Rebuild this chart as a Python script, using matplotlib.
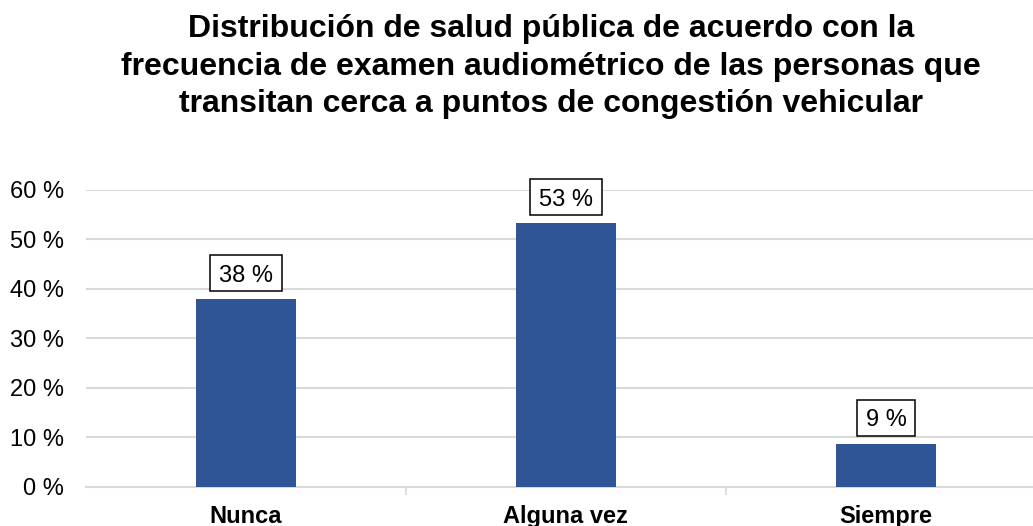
import matplotlib
matplotlib.use("Agg")
import matplotlib.pyplot as plt
from matplotlib.patches import Rectangle
from matplotlib.transforms import IdentityTransform

plt.rcParams['font.family'] = ['Liberation Sans', 'DejaVu Sans']

categories = ["Nunca", "Alguna vez", "Siempre"]
values = [37.9, 53.3, 8.65]
labels = ["38 %", "53 %", "9 %"]
yticks = [0, 10, 20, 30, 40, 50, 60]
title_lines = ["Distribución de salud pública de acuerdo con la",
               "frecuencia de examen audiométrico de las personas que",
               "transitan cerca a puntos de congestión vehicular"]

W, H = 1033, 526
fig = plt.figure(figsize=(W / 100, H / 100), dpi=100)
left, right, top, bottom = 85.5, 1033, 190, 486.5
ax = fig.add_axes([left / W, 1 - bottom / H, (right - left) / W, (bottom - top) / H])

unit = 320.2
x = list(range(len(categories)))
bar_color = "#2F5597"
ax.bar(x, values, width=100 / unit, color=bar_color, zorder=3)

ax.set_xlim(-0.5, -0.5 + (right - left) / unit)
ax.set_ylim(0, 60)

ax.set_yticks(yticks)
ax.set_yticklabels([f"{t} %" for t in yticks], fontsize=17, color="#000000")
ax.yaxis.grid(True, color="#D9D9D9", linewidth=1.5, zorder=0)
ax.tick_params(axis='y', length=0, pad=15.5)

ax.set_xticks([])
ax.set_xticks([0.5, 1.5], minor=True)
ax.tick_params(axis='x', which='minor', length=6, color="#D9D9D9", width=1.2)
for xi, cat in zip(x, categories):
    ax.annotate(cat, xy=(xi, 0), xycoords=('data', 'axes fraction'),
                xytext=(0, -(523 - bottom)), textcoords='offset pixels',
                ha='center', va='baseline', fontsize=17, fontweight='bold',
                annotation_clip=False)

for s in ['top', 'right', 'left']:
    ax.spines[s].set_visible(False)
ax.spines['bottom'].set_color("#D9D9D9")
ax.spines['bottom'].set_linewidth(1.5)

texts = []
for xi, v, lab in zip(x, values, labels):
    t = ax.annotate(lab, (xi, v), xytext=(0, 17.5), textcoords='offset pixels',
                    ha='center', va='baseline', fontsize=17, zorder=7,
                    annotation_clip=False)
    texts.append(t)

fig.canvas.draw()
renderer = fig.canvas.get_renderer()
for t, xi, v in zip(texts, x, values):
    bb = t.get_window_extent(renderer)
    px, py = ax.transData.transform((xi, v))
    cx = (bb.x0 + bb.x1) / 2
    cy = py + 26
    w = bb.width + 18
    h = 36
    rect = Rectangle((cx - w / 2, cy - h / 2), w, h, transform=IdentityTransform(),
                     facecolor='white', edgecolor='black', linewidth=1.1,
                     zorder=5, clip_on=False)
    ax.add_artist(rect)

baselines = [37, 75, 112]
for line, yb in zip(title_lines, baselines):
    fig.text(551 / W, 1 - yb / H, line, ha='center', va='baseline', fontsize=23,
             fontweight='bold')

fig.savefig("out.png", dpi=100)
